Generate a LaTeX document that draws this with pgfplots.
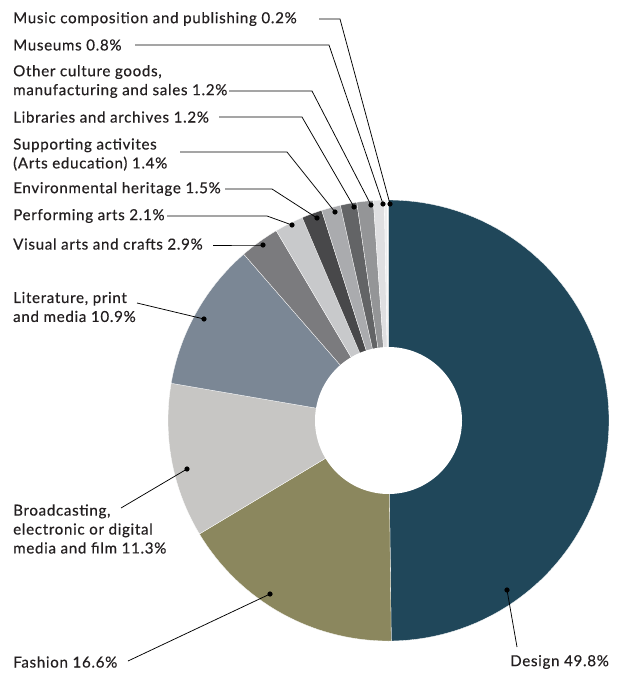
\documentclass[border=0pt]{standalone}
\usepackage{pgfplots}
\pgfplotsset{compat=1.18}
\usepackage{fontspec}
\setmainfont{Lato}[LetterSpace=4.5,FakeBold=0.4]
\definecolor{cDesign}{HTML}{20475A}
\definecolor{cFashion}{HTML}{8B875E}
\definecolor{cBroad}{HTML}{C7C6C4}
\definecolor{cLit}{HTML}{7B8795}
\definecolor{cVisual}{HTML}{7B7B7E}
\definecolor{cPerf}{HTML}{C8C9CB}
\definecolor{cEnv}{HTML}{48484A}
\definecolor{cSupp}{HTML}{AAABAE}
\definecolor{cLib}{HTML}{636466}
\definecolor{cOther}{HTML}{949597}
\definecolor{cMus}{HTML}{DFDFE1}
\definecolor{cMusic}{HTML}{EEEEEF}
\definecolor{txt}{HTML}{231F20}
\def\cx{388.5}\def\cy{420.5}\def\R{220.5}\def\r{73.5}
\gdef\cum{0}
\newcommand{\slice}[2]{%
  \pgfmathsetmacro\a{90-3.6*\cum}%
  \pgfmathsetmacro\b{90-3.6*(\cum+#1)}%
  \pgfmathsetmacro\newcum{\cum+#1}\xdef\cum{\newcum}%
  \edef\tmp{\noexpand\addplot[fill=#2, draw=white, line width=0.3pt, domain=\b:\a, samples=80]
    ({\cx+\R*cos(x)},{\cy-\R*sin(x)}) -- (axis cs:\cx,\cy) -- cycle;}\tmp}
\newcommand{\lead}[1]{\addplot[black, line width=0.75pt, mark=*, mark size=2.2pt, mark indices={1}] coordinates {#1};}
\begin{document}
\begin{tikzpicture}
\begin{axis}[hide axis, scale only axis, width=624bp, height=673bp,
  xmin=0, xmax=624, ymin=0, ymax=673, y dir=reverse, clip=false]
\path (axis cs:0,0) rectangle (axis cs:624,673);
\slice{49.8}{cDesign}
\slice{16.6}{cFashion}
\slice{11.3}{cBroad}
\slice{10.9}{cLit}
\slice{2.9}{cVisual}
\slice{2.1}{cPerf}
\slice{1.5}{cEnv}
\slice{1.4}{cSupp}
\slice{1.2}{cLib}
\slice{1.2}{cOther}
\slice{0.8}{cMus}
\slice{0.2}{cMusic}
\addplot[fill=white, draw=none, domain=0:360, samples=120] ({\cx+\r*cos(x)},{\cy-\r*sin(x)}) -- cycle;
\lead{(390,204) (340,19) (319,19)}
\lead{(383,204) (329,45) (135,45)}
\lead{(371,205) (312,91) (229,91)}
\lead{(354,207) (302,117) (219,117)}
\lead{(335,212) (287,152) (180,152)}
\lead{(317,218) (272,189) (225,189)}
\lead{(292,225) (267,216) (167,216)}
\lead{(263,245) (250,245) (213,245)}
\lead{(204,319) (137,303)}
\lead{(187,469) (121,508)}
\lead{(270,594) (128,661)}
\lead{(507,590) (517,647)}
\tikzset{lab/.style={anchor=west, inner sep=0pt, align=left, text=txt, font=\fontsize{15.2}{19}\selectfont}}
\node[lab] at (axis cs:13,19) {Music composition and publishing 0.2\%};
\node[lab] at (axis cs:13,45) {Museums 0.8\%};
\node[lab] at (axis cs:13,81.5) {Other culture goods,\\manufacturing and sales 1.2\%};
\node[lab] at (axis cs:13,117) {Libraries and archives 1.2\%};
\node[lab] at (axis cs:13,154.5) {Supporting activites\\(Arts education) 1.4\%};
\node[lab] at (axis cs:13,189) {Environmental heritage 1.5\%};
\node[lab] at (axis cs:13,216) {Performing arts 2.1\%};
\node[lab] at (axis cs:13,244) {Visual arts and crafts 2.9\%};
\node[lab] at (axis cs:13,307) {Literature, print\\and media 10.9\%};
\node[lab] at (axis cs:13,529) {Broadcasting,\\electronic or digital\\media and film 11.3\%};
\node[lab] at (axis cs:13,662) {Fashion 16.6\%};
\node[lab] at (axis cs:510,662) {Design 49.8\%};
\end{axis}
\end{tikzpicture}
\end{document}
